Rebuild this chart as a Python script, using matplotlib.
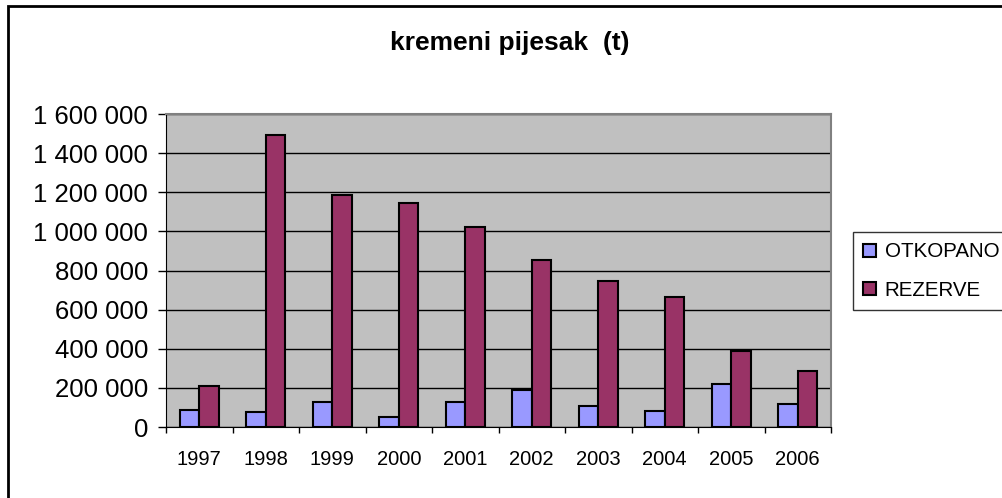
import matplotlib.pyplot as plt
from matplotlib.patches import Rectangle
import numpy as np

godine = ["1997", "1998", "1999", "2000", "2001", "2002", "2003", "2004", "2005", "2006"]
otkopano = [86000, 76000, 127000, 53000, 127000, 187000, 105000, 84000, 218000, 116000]
rezerve = [209000, 1492000, 1185000, 1144000, 1020000, 856000, 744000, 662000, 390000, 288000]
y_ticks = [0, 200000, 400000, 600000, 800000, 1000000, 1200000, 1400000, 1600000]
y_labels = ["0", "200 000", "400 000", "600 000", "800 000", "1 000 000", "1 200 000", "1 400 000", "1 600 000"]

plt.rcParams['font.family'] = ['Liberation Sans', 'DejaVu Sans']

fig = plt.figure(figsize=(10.02, 4.98), dpi=100)
W, H = 1002, 498
ax = fig.add_axes([166 / W, 1 - 427 / H, (831 - 166) / W, (427 - 114) / H])

x = np.arange(len(godine))
w = 0.29
ax.bar(x - w / 2, otkopano, w, color='#9999ff', edgecolor='black', linewidth=1.5, label='OTKOPANO', zorder=3)
ax.bar(x + w / 2, rezerve, w, color='#993366', edgecolor='black', linewidth=1.5, label='REZERVE', zorder=3)

ax.set_facecolor('#c0c0c0')
ax.set_xlim(-0.5, len(godine) - 0.5)
ax.set_ylim(0, 1600000)
ax.set_yticks(y_ticks)
ax.set_yticklabels(y_labels, fontsize=18.5)
ax.set_xticks(np.arange(len(godine) + 1) - 0.5, minor=False)
ax.set_xticklabels([""] * (len(godine) + 1))
ax.set_xticks(x, minor=True)
ax.set_xticklabels(godine, minor=True, fontsize=14.5)
ax.tick_params(axis='x', which='minor', length=0, pad=16.5)
ax.tick_params(axis='x', which='major', length=4, width=1, direction='out')
ax.tick_params(axis='y', length=6, width=1, pad=7)
ax.yaxis.grid(True, color='black', linewidth=1, zorder=1)
ax.set_axisbelow(True)
for s in ['top', 'right']:
    ax.spines[s].set_color('#808080')
    ax.spines[s].set_linewidth(1.5)
ax.spines['left'].set_color('black')
ax.spines['bottom'].set_color('black')

fig.text(510 / W, 1 - 43 / H, "kremeni pijesak  (t)", fontsize=19, fontweight='bold', ha='center', va='center')

leg = fig.legend(loc='upper left', bbox_to_anchor=(853 / W, 1 - 232 / H), fontsize=14.8,
                 frameon=True, fancybox=False, edgecolor='black', handlelength=0.6, handleheight=0.6,
                 handletextpad=0.45, borderpad=0.5, labelspacing=0.95, borderaxespad=0)
leg.get_frame().set_linewidth(1)

fig.patches.append(Rectangle((8 / W, -0.1), 1.2, 1 - 6 / H + 0.1, transform=fig.transFigure,
                             fill=False, edgecolor='black', linewidth=2))

fig.savefig("out.png", dpi=100)
